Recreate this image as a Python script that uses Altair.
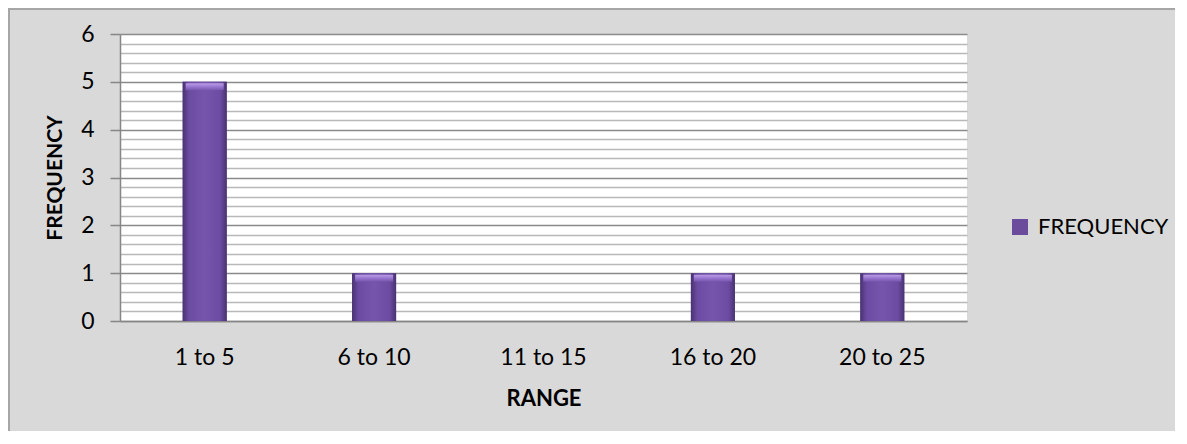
import altair as alt
import pandas as pd

categories = ["1 to 5", "6 to 10", "11 to 15", "16 to 20", "20 to 25"]
frequency = [5, 1, 0, 1, 1]
series_name = "FREQUENCY"
y_major = [0, 1, 2, 3, 4, 5, 6]
y_minor = [0.2, 0.4, 0.6, 0.8, 1.2, 1.4, 1.6, 1.8, 2.2, 2.4, 2.6, 2.8,
           3.2, 3.4, 3.6, 3.8, 4.2, 4.4, 4.6, 4.8, 5.2, 5.4, 5.6, 5.8]

df = pd.DataFrame({"range": categories, "freq": frequency, "series": series_name})

W, H = 847, 287
FONT = "Lato"
AXIS_GRAY = "#868686"

x_enc = alt.X(
    "range:N", sort=categories, title="RANGE",
    scale=alt.Scale(paddingInner=0, paddingOuter=0),
    axis=alt.Axis(
        labelAngle=0, labelFont=FONT, labelFontSize=23, labelColor="#000000",
        labelPadding=25, ticks=False, domainColor=AXIS_GRAY, domainWidth=1.5,
        titleFont=FONT, titleFontSize=22, titleFontWeight="bold", titleColor="#000000",
        titleY=77, titleBaseline="middle", grid=False,
    ),
)

y_scale = alt.Scale(domain=[0, 6], nice=False)

y_main = alt.Y(
    "freq:Q", scale=y_scale, title="FREQUENCY",
    axis=alt.Axis(
        values=y_major, format="d", labelFont=FONT, labelFontSize=23, labelColor="#000000",
        labelPadding=16, tickSize=10, tickColor=AXIS_GRAY, tickWidth=1.5,
        domainColor=AXIS_GRAY, domainWidth=1.5,
        grid=True, gridColor="#8a8a8a", gridWidth=1.5,
        titleFont=FONT, titleFontSize=21, titleFontWeight="bold", titleColor="#000000",
        titleX=-65, titleY=H / 2, titleAngle=-90, titleAlign="center", titleBaseline="middle",
    ),
)

y_minor_enc = alt.Y(
    "freq:Q", scale=y_scale, title=None,
    axis=alt.Axis(
        values=y_minor, grid=True, gridColor="#b8b8b8", gridWidth=1.5,
        labels=False, ticks=False, domain=False, orient="right",
    ),
)

grid_layer = alt.Chart(df).mark_bar(opacity=0, size=44).encode(x=x_enc, y=y_minor_enc)

legend_bars = alt.Chart(df).mark_bar(size=44).encode(
    x=x_enc,
    y=y_main,
    color=alt.Color(
        "series:N",
        scale=alt.Scale(range=["#6a4b9c"]),
        legend=alt.Legend(
            orient="none", legendX=889, legendY=182, title=None,
            symbolType="square", symbolSize=256, symbolStrokeWidth=0,
            labelFont=FONT, labelFontSize=22, labelColor="#000000", labelOffset=7,
        ),
    ),
)

grad = alt.Gradient(
    gradient="linear", x1=0, x2=1, y1=0, y2=0,
    stops=[
        alt.GradientStop(color="#4a3272", offset=0),
        alt.GradientStop(color="#6c4ca2", offset=0.15),
        alt.GradientStop(color="#7656ad", offset=0.5),
        alt.GradientStop(color="#6c4ca2", offset=0.85),
        alt.GradientStop(color="#4a3272", offset=1),
    ],
)

grad_bars = alt.Chart(df).mark_bar(size=44, color=grad).encode(x=x_enc, y=y_main)

top_grad = alt.Gradient(
    gradient="linear", x1=0, x2=0, y1=0, y2=1,
    stops=[
        alt.GradientStop(color="#c3a6ee", offset=0),
        alt.GradientStop(color="#9c7ad4", offset=0.5),
        alt.GradientStop(color="#7656ad", offset=1),
    ],
)

bevel = (
    alt.Chart(df)
    .transform_filter("datum.freq > 0")
    .mark_tick(size=38, thickness=7, color=top_grad, yOffset=5, opacity=0.9)
    .encode(x=x_enc, y=y_main)
)

main = alt.layer(legend_bars, grad_bars, bevel)

border = alt.Chart(df).mark_rect(fill=None, stroke="#a6a6a6", strokeWidth=2).encode(
    x=alt.value(-111), x2=alt.value(W + 230),
    y=alt.value(-25), y2=alt.value(H + 140),
)

chart = (
    alt.layer(grid_layer, main, border)
    .resolve_axis(y="independent")
    .resolve_scale(y="shared")
    .properties(
        width=W, height=H,
        autosize=alt.AutoSizeParams(type="none"),
        padding={"left": 112, "top": 26, "right": 208, "bottom": 110},
        background="#d9d9d9",
    )
    .configure_view(stroke=None, fill="#ffffff")
)

chart.save("out.html", embed_options={"renderer": "svg", "actions": False})
